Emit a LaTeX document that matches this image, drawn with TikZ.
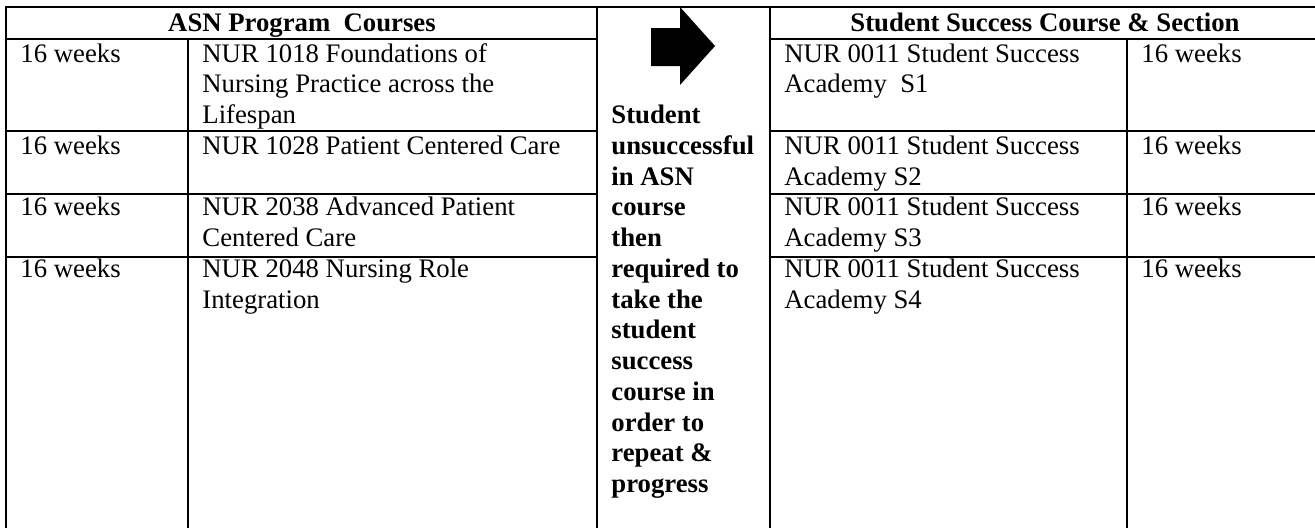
\documentclass[tikz,border=0pt]{standalone}
\usepackage{fontspec}
\setmainfont{Liberation Serif}
\begin{document}
\begin{tikzpicture}[x=0.46pt, y=-0.46pt,
    rule/.style={line width=0.75pt, line cap=rect},
    cell/.style={anchor=base west, inner sep=0pt, font=\fontsize{12.3}{14.15}\selectfont},
    head/.style={anchor=base, inner sep=0pt, font=\fontsize{12.3}{14.15}\selectfont\bfseries}]
    \useasboundingbox (0,0) rectangle (1315,527);

    % Table rules (open at the right and at the bottom)
    \draw[rule] (6,7) -- (1315,7);
    \foreach \y in {39,131,194,257} {
        \draw[rule] (6,\y) -- (597,\y);
        \draw[rule] (770,\y) -- (1315,\y);
    }
    \foreach \x/\ytop in {6/7, 188/39, 597/7, 770/7, 1127/39} {
        \draw[rule] (\x,\ytop) -- (\x,527);
    }

    % Headers
    \node[head] (asnhead) at (302,31.5) {ASN Program~ Courses};
    \node[head] (sschead) at (1045,31.5) {Student Success Course \& Section};

    % ASN program courses (left)
    \foreach \y/\name in {62/wka, 154.25/wkb, 215.75/wkc, 277.25/wkd}
        \node[cell] (\name) at (20,\y) {16 weeks};
    \node[cell] (nura) at (202,62) {\begin{tabular}[t]{@{}l@{}}
        NUR 1018 Foundations of\\
        Nursing Practice across the\\
        Lifespan
        \end{tabular}};
    \node[cell] (nurb) at (202,154.25) {NUR 1028 Patient Centered Care};
    \node[cell] (nurc) at (202,215.75) {\begin{tabular}[t]{@{}l@{}}
        NUR 2038 Advanced Patient\\
        Centered Care
        \end{tabular}};
    \node[cell] (nurd) at (202,277.25) {\begin{tabular}[t]{@{}l@{}}
        NUR 2048 Nursing Role\\
        Integration
        \end{tabular}};

    % Big arrow and the rule in the middle column
    \fill (651,28) -- (680,28) -- (680,7) -- (715,46) -- (680,85) -- (680,66) -- (651,66) -- cycle;
    \node[cell, font=\fontsize{12.3}{14.15}\selectfont\bfseries] (rule) at (611,123.5) {\begin{tabular}[t]{@{}l@{}}
        Student\\
        unsuccessful\\
        in ASN\\
        course\\
        then\\
        required to\\
        take the\\
        student\\
        success\\
        course in\\
        order to\\
        repeat \&\\
        progress
        \end{tabular}};

    % Student success sections (right)
    \node[cell] (ssa) at (784,62) {\begin{tabular}[t]{@{}l@{}}
        NUR 0011 Student Success\\
        Academy~ S1
        \end{tabular}};
    \foreach \y/\name/\sec in {154.25/ssb/S2, 215.75/ssc/S3, 277.25/ssd/S4}
        \node[cell] (\name) at (784,\y) {\begin{tabular}[t]{@{}l@{}}
            NUR 0011 Student Success\\
            Academy \sec
            \end{tabular}};
    \foreach \y/\name in {62/wke, 154.25/wkf, 215.75/wkg, 277.25/wkh}
        \node[cell] (\name) at (1141,\y) {16 weeks};
\end{tikzpicture}
\end{document}
